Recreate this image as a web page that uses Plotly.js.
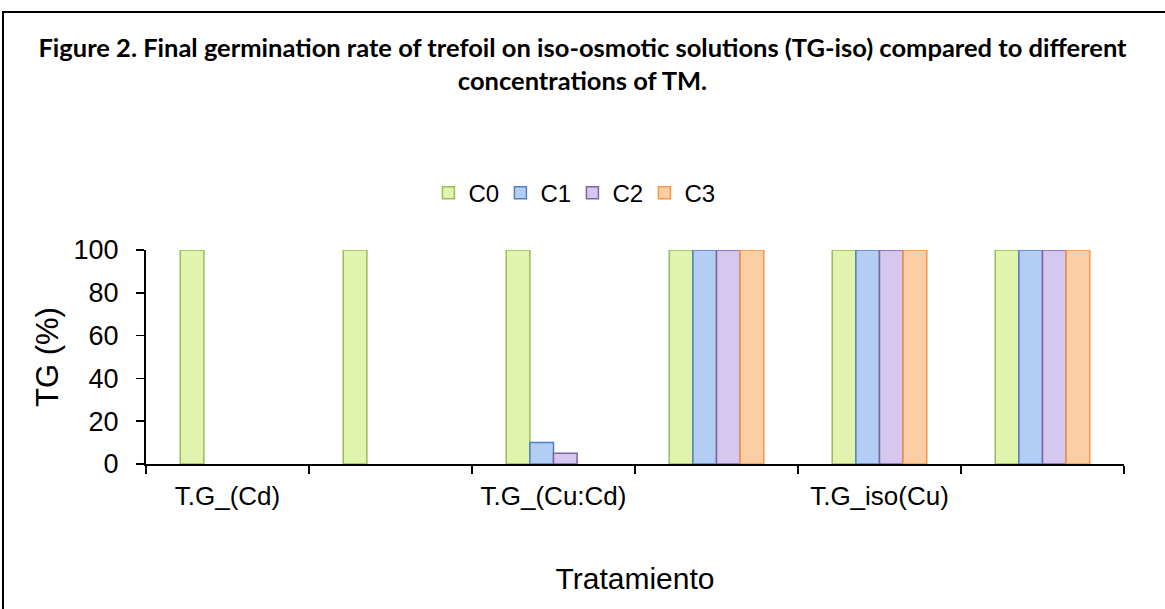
<!DOCTYPE html>
<html>
<head>
<meta charset="utf-8">
<script src="https://cdn.plot.ly/plotly-3.0.1.min.js"></script>
<style>
  html, body { margin: 0; padding: 0; background: #fff; }
  #wrap { position: relative; width: 1165px; height: 609px; overflow: hidden; }
  #frame { position: absolute; left: 2px; top: 11px; width: 1200px; height: 700px;
           border-top: 2px solid #000; border-left: 2px solid #000; pointer-events: none; z-index: 5; }
  #chart { position: absolute; left: 0; top: 0; width: 1165px; height: 609px; }
</style>
</head>
<body>
<div id="wrap">
  <div id="chart"></div>
  <div id="frame"></div>
</div>
<script>
const categories = ["T.G_(Cd)", "T.G_(Cu)", "T.G_(Cu:Cd)", "T.G_iso(Cd)", "T.G_iso(Cu)", "T.G_iso(Cu:Cd)"];
const tickLabels = ["T.G_(Cd)", "", "T.G_(Cu:Cd)", "", "T.G_iso(Cu)", ""];
const seriesNames = ["C0", "C1", "C2", "C3"];
const c0 = [100, 100, 100, 100, 100, 100];
const c1 = [null, null, 10, 100, 100, 100];
const c2 = [null, null, 5, 100, 100, 100];
const c3 = [null, null, null, 100, 100, 100];
const fills = ["#e0f4ae", "#b4cdf5", "#d5c7ee", "#fccea4"];
const borders = ["#9bbb59", "#4f81bd", "#8064a2", "#f79646"];

const FONT = "Liberation Sans, Arial, sans-serif";
const values = [c0, c1, c2, c3];
const traces = values.map((v, i) => ({
  type: "bar",
  name: seriesNames[i],
  x: categories,
  y: v,
  marker: { color: fills[i], line: { color: borders[i], width: 1.5 } }
}));

const layout = {
  width: 1165, height: 609,
  margin: { l: 146, r: 41, t: 250, b: 145 },
  paper_bgcolor: "#ffffff",
  plot_bgcolor: "#ffffff",
  barmode: "group",
  bargap: 0.42,
  bargroupgap: 0,
  showlegend: true,
  legend: {
    orientation: "h", x: 0.436, xanchor: "center", y: 1.266, yanchor: "middle",
    font: { family: FONT, size: 24, color: "#000" },
    itemwidth: 30, entrywidth: 27, entrywidthmode: "pixels", tracegroupgap: 0
  },
  title: {
    text: "<b>Figure 2. Final germination rate of trefoil on iso-osmotic solutions (TG-iso) compared to different<br>concentrations of TM.</b>",
    font: { family: "Lato, Carlito, sans-serif", size: 25.5, color: "#000" },
    x: 0.5, xanchor: "center", xref: "container",
    y: 0.906, yanchor: "middle", yref: "container"
  },
  xaxis: {
    type: "category",
    tickvals: categories,
    ticktext: tickLabels,
    tickson: "boundaries",
    ticks: "outside", ticklen: 8, tickwidth: 1.5, tickcolor: "#000",
    ticklabelstandoff: 8,
    showline: true, linecolor: "#000", linewidth: 2,
    showgrid: false, zeroline: false,
    tickfont: { family: FONT, size: 26, color: "#000" },
    title: { text: "Tratamiento", font: { family: FONT, size: 30, color: "#000" }, standoff: 58 },
    fixedrange: true
  },
  yaxis: {
    range: [0, 100],
    tickvals: [0, 20, 40, 60, 80, 100],
    ticks: "outside", ticklen: 8, tickwidth: 1.5, tickcolor: "#000",
    ticklabelstandoff: 12,
    showline: true, linecolor: "#000", linewidth: 2,
    showgrid: false, zeroline: false,
    tickfont: { family: FONT, size: 27, color: "#000" },
    title: { text: "TG (%)", font: { family: FONT, size: 31, color: "#000" }, standoff: 6 },
    fixedrange: true
  }
};

Plotly.newPlot("chart", traces, layout, { displayModeBar: false, staticPlot: true });
</script>
</body>
</html>
